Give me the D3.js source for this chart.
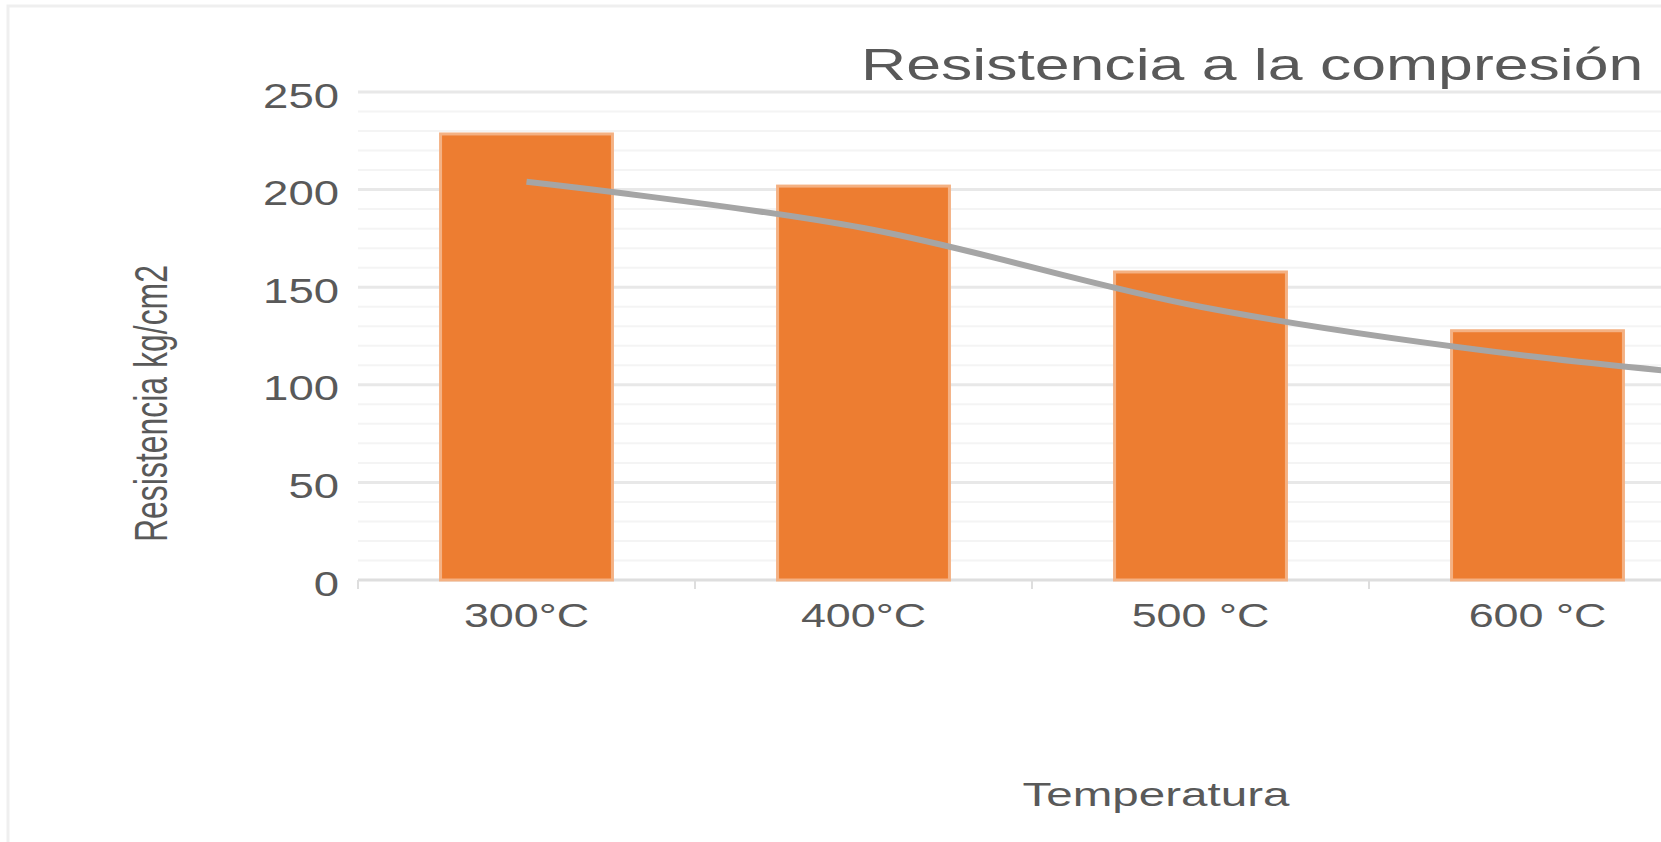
<!DOCTYPE html>
<html>
<head>
<meta charset="utf-8">
<script src="https://cdn.jsdelivr.net/npm/d3@7"></script>
<style>
  body { margin: 0; background: #fff; }
  svg { display: block; font-family: "Liberation Sans", Arial, sans-serif; }
</style>
</head>
<body>
<svg id="chart" width="1661" height="842"></svg>
<script>
// data
var categories = ["300°C", "400°C", "500 °C", "600 °C", "700 °C"]
var barValues  = [228.5, 201.8, 157.8, 127.7]      // 5th bar lies outside the frame
var lineValues = [204, 180.3, 140, 114.2, 98]
var yTicks = [0, 50, 100, 150, 200, 250]

var title = "Resistencia a la compresión"
var xTitle = "Temperatura"
var yTitle = "Resistencia kg/cm2"

var svg = d3.select("#chart")
var textColor = "#595959"

// plot area (runs past the right edge, as in the picture)
var plotLeft = 358, plotTop = 92, plotBottom = 580, bandStep = 337, plotRight = 1661
var x = d3.scaleBand()
    .domain(categories)
    .range([plotLeft, plotLeft + bandStep * categories.length])
    .paddingInner(0.49)
    .paddingOuter(0.245)
var y = d3.scaleLinear().domain([0, 250]).range([plotBottom, plotTop])

// stretch a text to k times its natural width (picture is widened)
function stretch(sel, k) {
  sel.each(function () {
    var w = this.getComputedTextLength()
    d3.select(this).attr("textLength", w * k).attr("lengthAdjust", "spacingAndGlyphs")
  })
}

// frame
svg.append("rect")
  .attr("x", 8).attr("y", 6).attr("width", 2000).attr("height", 1000)
  .attr("fill", "none").attr("stroke", "#efefef").attr("stroke-width", 3)

// minor and major gridlines
var grid = svg.append("g")
grid.selectAll("line.minor")
  .data(d3.range(10, 250, 10).filter(function (v) { return v % 50 !== 0 }))
  .join("line").attr("class", "minor")
  .attr("x1", plotLeft).attr("x2", plotRight)
  .attr("y1", function (d) { return y(d) }).attr("y2", function (d) { return y(d) })
  .attr("stroke", "#f4f4f4").attr("stroke-width", 2)
grid.selectAll("line.major")
  .data(yTicks.filter(function (v) { return v > 0 }))
  .join("line").attr("class", "major")
  .attr("x1", plotLeft).attr("x2", plotRight)
  .attr("y1", function (d) { return y(d) }).attr("y2", function (d) { return y(d) })
  .attr("stroke", "#e8e8e8").attr("stroke-width", 3)

// x axis line and boundary ticks (only the labels inside the frame)
var xAxis = svg.append("g").attr("transform", "translate(0," + plotBottom + ")")
  .call(d3.axisBottom(x).tickValues(categories.slice(0, 4)).tickSize(0).tickPadding(23))
xAxis.select(".domain").remove()
xAxis.append("line")
  .attr("x1", plotLeft).attr("x2", plotRight)
  .attr("stroke", "#dedede").attr("stroke-width", 3)
xAxis.selectAll("line.bound")
  .data(d3.range(categories.length))
  .join("line").attr("class", "bound")
  .attr("x1", function (i) { return x(categories[i]) - x.step() * x.paddingInner() / 2 })
  .attr("x2", function (i) { return x(categories[i]) - x.step() * x.paddingInner() / 2 })
  .attr("y1", 0).attr("y2", 9)
  .attr("stroke", "#dedede").attr("stroke-width", 2)
xAxis.selectAll(".tick text")
  .attr("fill", textColor).attr("font-size", 34).attr("font-family", null)
  .call(stretch, 1.32)

// y axis labels
var yAxis = svg.append("g").attr("transform", "translate(" + plotLeft + ",0)")
  .call(d3.axisLeft(y).tickValues(yTicks).tickSize(0).tickPadding(19))
yAxis.select(".domain").remove()
yAxis.selectAll(".tick text")
  .attr("fill", textColor).attr("font-size", 35).attr("font-family", null)
  .attr("dy", "0.43em")
  .call(stretch, 1.3)

// bars
svg.append("g").selectAll("rect")
  .data(barValues)
  .join("rect")
  .attr("x", function (d, i) { return x(categories[i]) })
  .attr("width", x.bandwidth())
  .attr("y", function (d) { return y(d) })
  .attr("height", function (d) { return y(0) - y(d) })
  .attr("fill", "#ED7D31")
  .attr("stroke", "#F4B183").attr("stroke-width", 3)

// smoothed line
var line = d3.line()
  .x(function (d, i) { return x(categories[i]) + x.bandwidth() / 2 })
  .y(function (d) { return y(d) })
  .curve(d3.curveCatmullRom.alpha(0))
svg.append("path")
  .datum(lineValues)
  .attr("d", line)
  .attr("fill", "none")
  .attr("stroke", "#A5A5A5").attr("stroke-width", 6)
  .attr("stroke-linecap", "butt")

// titles
svg.append("text")
  .attr("x", 861).attr("y", 80)
  .attr("font-size", 45).attr("fill", textColor)
  .text(title)
  .call(stretch, 1.39)

svg.append("text")
  .attr("x", 1156).attr("y", 806)
  .attr("text-anchor", "middle")
  .attr("font-size", 33.5).attr("fill", textColor)
  .text(xTitle)
  .call(stretch, 1.42)

svg.append("text")
  .attr("transform", "translate(167,403.5) rotate(-90)")
  .attr("text-anchor", "middle")
  .attr("font-size", 46).attr("fill", textColor)
  .attr("textLength", 277).attr("lengthAdjust", "spacingAndGlyphs")
  .text(yTitle)
</script>
</body>
</html>
